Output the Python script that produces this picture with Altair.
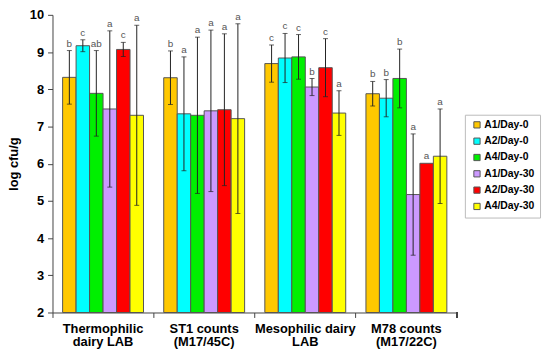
import altair as alt
import pandas as pd

groups = ["Thermophilic|dairy LAB", "ST1 counts|(M17/45C)", "Mesophilic dairy|LAB", "M78 counts|(M17/22C)"]
series = ["A1/Day-0", "A2/Day-0", "A4/Day-0", "A1/Day-30", "A2/Day-30", "A4/Day-30"]
colors = ["#FFC800", "#00FFFF", "#00F000", "#CC99FF", "#FF0000", "#FFFF00"]

means = [
    [8.32, 9.17, 7.89, 7.47, 9.07, 7.30],
    [8.31, 7.34, 7.30, 7.42, 7.45, 7.21],
    [8.69, 8.84, 8.87, 8.06, 8.58, 7.36],
    [7.88, 7.76, 8.29, 5.17, 6.01, 6.20],
]
errs = [
    [0.72, 0.16, 1.15, 2.10, 0.19, 2.42],
    [0.72, 1.53, 2.10, 2.17, 2.04, 2.55],
    [0.50, 0.66, 0.60, 0.23, 0.78, 0.60],
    [0.33, 0.50, 0.79, 1.63, 0.00, 1.27],
]
letters = [
    ["b", "c", "ab", "a", "c", "a"],
    ["b", "a", "a", "a", "a", "a"],
    ["c", "c", "c", "b", "c", "a"],
    ["b", "b", "b", "a", "a", "a"],
]
y_ticks = [2, 3, 4, 5, 6, 7, 8, 9, 10]

rows = []
for gi, g in enumerate(groups):
    for si, s in enumerate(series):
        m = means[gi][si]
        e = errs[gi][si]
        rows.append({"group": g, "series": s, "mean": m, "lo": m - e, "hi": m + e,
                     "letter": letters[gi][si], "has_err": e > 0})
df = pd.DataFrame(rows)

W, H = 409, 301
FONT = "Liberation Sans"

x = alt.X("group:N", sort=groups,
          scale=alt.Scale(paddingInner=0, paddingOuter=0),
          axis=alt.Axis(title=None, labelExpr="split(datum.label, '|')", labelAngle=0,
                        bandPosition=0, labelFont=FONT, labelFontWeight="bold",
                        labelFontSize=13, labelColor="#000", labelPadding=5,
                        labelLineHeight=13.5, domainColor="#444", tickColor="#444",
                        tickSize=5, labelBound=False, grid=False, labelOverlap=False))
xo = alt.XOffset("series:N", sort=series,
                 scale=alt.Scale(paddingOuter=0.75, paddingInner=0))
y_scale = alt.Scale(domain=[2, 10], nice=False, zero=False)
y_axis = alt.Axis(title="log cfu/g", values=y_ticks, grid=False,
                  labelFont=FONT, labelFontWeight="bold", labelFontSize=13,
                  labelColor="#000", titleFont=FONT, titleFontWeight="bold",
                  titleFontSize=13, titleColor="#000", titlePadding=9,
                  domainColor="#444", tickColor="#444", tickSize=5,
                  labelPadding=4, labelOverlap=False, labelBound=False,
                  labelFlush=False)


def yenc(field):
    return alt.Y(field, type="quantitative", scale=y_scale, axis=y_axis)


bars = alt.Chart(df).mark_bar(stroke="#555", strokeWidth=1).encode(
    x=x, xOffset=xo,
    y=yenc("mean"),
    y2=alt.Y2(datum=2),
    color=alt.Color("series:N", sort=series,
                    scale=alt.Scale(domain=series, range=colors),
                    legend=alt.Legend(title=None, orient="none", legendX=417, legendY=101,
                                      symbolType="square", symbolSize=40,
                                      symbolStrokeColor="#555", symbolStrokeWidth=1,
                                      labelFont=FONT, labelFontWeight="bold",
                                      labelFontSize=10.5, labelColor="#000",
                                      strokeColor="#bbb", padding=5, rowPadding=5.5,
                                      symbolOffset=2, labelOffset=2,
                                      fillColor="white")),
)

err_df = alt.Chart(df).transform_filter("datum.has_err")

rules = err_df.mark_rule(color="#222", strokeWidth=1).encode(
    x=x, xOffset=xo, y=yenc("lo"), y2="hi:Q")
cap_hi = err_df.mark_tick(color="#222", thickness=1, size=5, orient="horizontal").encode(
    x=x, xOffset=xo, y=yenc("hi"))
cap_lo = err_df.mark_tick(color="#222", thickness=1, size=5, orient="horizontal").encode(
    x=x, xOffset=xo, y=yenc("lo"))

labels = alt.Chart(df).mark_text(font=FONT, fontSize=10, color="#555", baseline="bottom",
                                 dy=-2).encode(
    x=x, xOffset=xo, y=yenc("hi"), text="letter:N")

end_tick = alt.Chart(df).mark_rule(color="#444").encode(
    x=alt.value(W), y=alt.value(H), y2=alt.value(H + 5))

chart = alt.layer(bars, rules, cap_hi, cap_lo, labels, end_tick).properties(
    width=W, height=H, padding={"left": 45, "top": 5, "right": 86, "bottom": 36},
    autosize=alt.AutoSizeParams(type="none"),
).configure(background="white", view=alt.ViewConfig(stroke=None))

chart.save("out.html", embed_options={"renderer": "svg", "actions": False})
